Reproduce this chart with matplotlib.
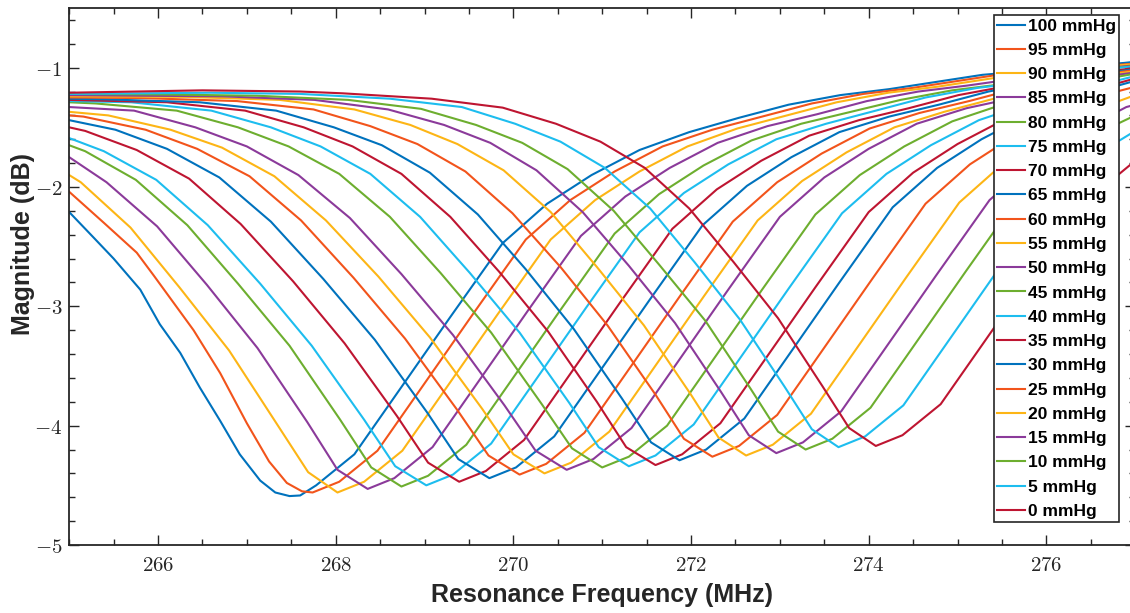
import matplotlib
matplotlib.use('Agg')
import matplotlib.pyplot as plt
from matplotlib.ticker import MultipleLocator, FuncFormatter

plt.rcParams['mathtext.fontset'] = 'cm'

# ---------------- data ----------------
labels = ['100 mmHg', '95 mmHg', '90 mmHg', '85 mmHg', '80 mmHg', '75 mmHg', '70 mmHg',
          '65 mmHg', '60 mmHg', '55 mmHg', '50 mmHg', '45 mmHg', '40 mmHg', '35 mmHg',
          '30 mmHg', '25 mmHg', '20 mmHg', '15 mmHg', '10 mmHg', '5 mmHg', '0 mmHg']

f100 = [265.0, 265.27, 265.5, 265.8, 266.02, 266.25, 266.47, 266.7, 266.92, 267.15, 267.32, 267.48, 267.6, 267.78, 268.21, 268.68, 269.28, 269.88, 270.38, 270.88, 271.42, 271.98, 272.54, 273.10, 273.68, 274.23, 275.28, 276.88, 277.0]
m100 = [-2.21, -2.42, -2.60, -2.86, -3.15, -3.39, -3.68, -3.96, -4.24, -4.46, -4.56, -4.59, -4.585, -4.50, -4.24, -3.74, -3.10, -2.47, -2.14, -1.90, -1.69, -1.54, -1.42, -1.31, -1.23, -1.18, -1.06, -0.96, -0.95]

f95 = [265.0, 265.39, 265.76, 265.95, 266.4, 266.7, 267.0, 267.25, 267.45, 267.62, 267.74, 268.04, 268.47, 268.94, 269.54, 270.14, 270.64, 271.14, 271.68, 272.24, 272.80, 273.36, 273.94, 274.49, 275.54, 277.0]
m95 = [-2.04, -2.30, -2.55, -2.74, -3.20, -3.56, -3.98, -4.30, -4.48, -4.55, -4.56, -4.47, -4.21, -3.71, -3.07, -2.44, -2.11, -1.87, -1.66, -1.52, -1.41, -1.30, -1.22, -1.17, -1.05, -0.965]

f90 = [265.0, 265.13, 265.69, 266.24, 266.80, 267.35, 267.69, 268.02, 268.32, 268.75, 269.22, 269.82, 270.42, 270.92, 271.42, 271.96, 272.52, 273.08, 273.64, 274.22, 274.77, 275.82, 277.0]
m90 = [-1.90, -1.96, -2.34, -2.84, -3.37, -4.00, -4.39, -4.56, -4.47, -4.21, -3.71, -3.07, -2.44, -2.11, -1.87, -1.66, -1.51, -1.40, -1.29, -1.21, -1.16, -1.04, -0.97]

f85 = [265.0, 265.42, 265.99, 266.55, 267.12, 267.68, 268.02, 268.36, 268.66, 269.09, 269.56, 270.16, 270.76, 271.26, 271.76, 272.30, 272.86, 273.42, 273.98, 274.56, 275.11, 276.16, 277.0]
m85 = [-1.75, -1.96, -2.33, -2.82, -3.35, -3.97, -4.37, -4.53, -4.44, -4.18, -3.68, -3.04, -2.41, -2.08, -1.84, -1.63, -1.49, -1.39, -1.28, -1.20, -1.15, -1.04, -0.98]

f80 = [265.0, 265.18, 265.75, 266.33, 266.90, 267.48, 268.05, 268.40, 268.74, 269.04, 269.47, 269.94, 270.54, 271.14, 271.64, 272.14, 272.68, 273.24, 273.80, 274.36, 274.94, 275.49, 276.54, 277.0]
m80 = [-1.65, -1.70, -1.94, -2.32, -2.81, -3.33, -3.95, -4.35, -4.51, -4.42, -4.16, -3.66, -3.02, -2.39, -2.06, -1.82, -1.61, -1.47, -1.37, -1.27, -1.19, -1.14, -1.02, -0.985]

f75 = [265.0, 265.39, 265.98, 266.56, 267.15, 267.73, 268.32, 268.67, 269.02, 269.32, 269.75, 270.22, 270.82, 271.42, 271.92, 272.42, 272.96, 273.52, 274.08, 274.64, 275.22, 275.77, 276.82, 277.0]
m75 = [-1.59, -1.70, -1.94, -2.32, -2.81, -3.33, -3.95, -4.34, -4.50, -4.41, -4.15, -3.65, -3.01, -2.38, -2.05, -1.81, -1.60, -1.47, -1.36, -1.25, -1.17, -1.12, -1.00, -0.99]

f70 = [265.0, 265.18, 265.76, 266.35, 266.93, 267.52, 268.10, 268.69, 269.04, 269.39, 269.69, 270.12, 270.59, 271.19, 271.79, 272.29, 272.79, 273.33, 273.89, 274.45, 275.01, 275.59, 276.14, 277.0]
m70 = [-1.50, -1.53, -1.69, -1.93, -2.31, -2.79, -3.31, -3.92, -4.31, -4.47, -4.38, -4.12, -3.62, -2.98, -2.35, -2.02, -1.78, -1.57, -1.44, -1.34, -1.23, -1.15, -1.10, -1.00]

f65 = [265.0, 265.52, 266.10, 266.69, 267.27, 267.86, 268.44, 269.03, 269.38, 269.73, 270.03, 270.46, 270.93, 271.53, 272.13, 272.63, 273.13, 273.67, 274.23, 274.79, 275.35, 275.93, 276.48, 277.0]
m65 = [-1.44, -1.52, -1.68, -1.92, -2.29, -2.77, -3.28, -3.89, -4.28, -4.44, -4.35, -4.09, -3.59, -2.95, -2.32, -1.99, -1.75, -1.54, -1.41, -1.31, -1.20, -1.12, -1.07, -1.01]

f60 = [265.0, 265.16, 265.86, 266.44, 267.03, 267.61, 268.20, 268.78, 269.37, 269.72, 270.07, 270.37, 270.80, 271.27, 271.87, 272.47, 272.97, 273.47, 274.01, 274.57, 275.13, 275.69, 276.27, 277.0]
m60 = [-1.40, -1.41, -1.52, -1.68, -1.91, -2.28, -2.76, -3.27, -3.87, -4.25, -4.41, -4.32, -4.06, -3.56, -2.92, -2.29, -1.96, -1.72, -1.51, -1.38, -1.28, -1.17, -1.09, -1.02]

f55 = [265.0, 265.44, 266.14, 266.72, 267.31, 267.89, 268.48, 269.06, 269.65, 270.0, 270.35, 270.65, 271.08, 271.55, 272.15, 272.75, 273.25, 273.75, 274.29, 274.85, 275.41, 275.97, 276.55, 277.0]
m55 = [-1.37, -1.40, -1.52, -1.67, -1.91, -2.28, -2.75, -3.26, -3.86, -4.24, -4.40, -4.31, -4.05, -3.55, -2.91, -2.28, -1.95, -1.71, -1.50, -1.37, -1.26, -1.15, -1.07, -1.03]

f50 = [265.0, 265.73, 266.42, 267.0, 267.58, 268.16, 268.74, 269.32, 269.90, 270.25, 270.60, 270.90, 271.33, 271.80, 272.40, 273.00, 273.50, 274.00, 274.54, 275.10, 275.66, 276.22, 276.80, 277.0]
m50 = [-1.33, -1.36, -1.50, -1.66, -1.90, -2.26, -2.73, -3.24, -3.83, -4.21, -4.37, -4.28, -4.02, -3.52, -2.88, -2.25, -1.92, -1.68, -1.47, -1.34, -1.25, -1.14, -1.06, -1.04]

f45 = [265.0, 265.30, 266.21, 266.90, 267.47, 268.04, 268.61, 269.18, 269.75, 270.32, 270.66, 271.00, 271.30, 271.73, 272.20, 272.80, 273.40, 273.90, 274.40, 274.94, 275.50, 276.06, 276.62, 277.0]
m45 = [-1.29, -1.30, -1.36, -1.50, -1.66, -1.89, -2.25, -2.72, -3.22, -3.82, -4.19, -4.35, -4.26, -4.00, -3.50, -2.86, -2.23, -1.90, -1.66, -1.45, -1.31, -1.21, -1.10, -1.05]

f40 = [265.0, 265.70, 266.60, 267.27, 267.83, 268.39, 268.95, 269.51, 270.07, 270.63, 270.96, 271.30, 271.60, 272.03, 272.50, 273.10, 273.70, 274.20, 274.70, 275.24, 275.80, 276.36, 277.0]
m40 = [-1.28, -1.29, -1.36, -1.50, -1.66, -1.89, -2.25, -2.72, -3.22, -3.81, -4.18, -4.34, -4.25, -3.99, -3.49, -2.85, -2.22, -1.89, -1.65, -1.44, -1.30, -1.19, -1.07]

f35 = [265.0, 266.10, 266.98, 267.64, 268.19, 268.74, 269.29, 269.84, 270.39, 270.94, 271.27, 271.60, 271.90, 272.33, 272.80, 273.40, 274.00, 274.50, 275.00, 275.54, 276.10, 276.66, 277.0]
m35 = [-1.27, -1.29, -1.36, -1.50, -1.66, -1.89, -2.25, -2.71, -3.21, -3.80, -4.18, -4.33, -4.24, -3.98, -3.48, -2.84, -2.21, -1.88, -1.64, -1.43, -1.28, -1.16, -1.09]

f30 = [265.0, 265.39, 266.47, 267.33, 267.98, 268.52, 269.06, 269.60, 270.14, 270.68, 271.22, 271.55, 271.87, 272.17, 272.60, 273.07, 273.67, 274.27, 274.77, 275.27, 275.81, 276.37, 277.0]
m30 = [-1.26, -1.265, -1.29, -1.36, -1.50, -1.65, -1.88, -2.23, -2.69, -3.19, -3.77, -4.14, -4.29, -4.20, -3.94, -3.44, -2.80, -2.17, -1.84, -1.60, -1.39, -1.24, -1.11]

f25 = [265.0, 265.82, 266.89, 267.75, 268.39, 268.92, 269.46, 269.99, 270.53, 271.06, 271.60, 271.92, 272.24, 272.54, 272.97, 273.44, 274.04, 274.64, 275.14, 275.64, 276.18, 276.74, 277.0]
m25 = [-1.25, -1.255, -1.28, -1.35, -1.49, -1.64, -1.87, -2.22, -2.67, -3.16, -3.74, -4.11, -4.26, -4.17, -3.91, -3.41, -2.77, -2.14, -1.81, -1.57, -1.36, -1.21, -1.16]

f20 = [265.0, 266.32, 267.37, 268.21, 268.84, 269.37, 269.89, 270.42, 270.94, 271.47, 271.99, 272.31, 272.62, 272.92, 273.35, 273.82, 274.42, 275.02, 275.52, 276.02, 276.56, 277.0]
m20 = [-1.24, -1.245, -1.27, -1.35, -1.48, -1.64, -1.86, -2.21, -2.67, -3.16, -3.73, -4.10, -4.25, -4.16, -3.90, -3.40, -2.76, -2.13, -1.80, -1.56, -1.35, -1.23]

f15 = [265.0, 266.72, 267.76, 268.59, 269.22, 269.74, 270.26, 270.78, 271.30, 271.82, 272.34, 272.65, 272.96, 273.26, 273.69, 274.16, 274.76, 275.36, 275.86, 276.36, 276.90, 277.0]
m15 = [-1.23, -1.24, -1.27, -1.35, -1.48, -1.63, -1.86, -2.21, -2.66, -3.14, -3.72, -4.08, -4.23, -4.14, -3.88, -3.38, -2.74, -2.11, -1.78, -1.54, -1.33, -1.31]

f10 = [265.0, 266.08, 267.11, 268.14, 268.96, 269.58, 270.10, 270.61, 271.13, 271.64, 272.16, 272.67, 272.98, 273.29, 273.59, 274.02, 274.49, 275.09, 275.69, 276.19, 276.69, 277.0]
m10 = [-1.22, -1.225, -1.235, -1.27, -1.345, -1.48, -1.63, -1.85, -2.20, -2.65, -3.12, -3.69, -4.05, -4.20, -4.11, -3.85, -3.35, -2.71, -2.08, -1.75, -1.51, -1.40]

f5 = [265.0, 266.59, 267.60, 268.61, 269.42, 270.02, 270.53, 271.03, 271.54, 272.04, 272.55, 273.05, 273.36, 273.66, 273.96, 274.39, 274.86, 275.46, 276.06, 276.56, 277.0]
m5 = [-1.22, -1.21, -1.22, -1.26, -1.33, -1.47, -1.62, -1.84, -2.18, -2.63, -3.11, -3.67, -4.03, -4.18, -4.09, -3.83, -3.33, -2.69, -2.06, -1.73, -1.53]

f0 = [265.0, 266.5, 267.6, 268.08, 269.08, 269.88, 270.48, 270.98, 271.48, 271.98, 272.48, 272.98, 273.48, 273.78, 274.08, 274.38, 274.81, 275.28, 275.88, 276.48, 277.0]
m0 = [-1.21, -1.19, -1.20, -1.215, -1.26, -1.335, -1.47, -1.62, -1.84, -2.18, -2.63, -3.10, -3.67, -4.02, -4.17, -4.08, -3.82, -3.32, -2.68, -2.10, -1.78]

x_ticks = [266, 268, 270, 272, 274, 276]
y_ticks = [-5, -4, -3, -2, -1]

colors = ['#0072BD', '#F2541B', '#FDB515', '#8B3A9A', '#6DAE2F', '#1DBDEF', '#BE1531']

series = [(f100, m100), (f95, m95), (f90, m90), (f85, m85), (f80, m80), (f75, m75),
          (f70, m70), (f65, m65), (f60, m60), (f55, m55), (f50, m50), (f45, m45),
          (f40, m40), (f35, m35), (f30, m30), (f25, m25), (f20, m20), (f15, m15),
          (f10, m10), (f5, m5), (f0, m0)]

# ---------------- figure ----------------
fig = plt.figure(figsize=(11.3, 6.13), dpi=100)
ax = fig.add_axes([69.2 / 1130, (613 - 545) / 613, 1066 / 1130, 537 / 613])

for i, ((fx, my), lab) in enumerate(zip(series, labels)):
    ax.plot(fx, my, color=colors[i % len(colors)], lw=1.5, label=lab)

ax.set_xlim(265, 277)
ax.set_ylim(-5, -0.5)
ax.set_xticks(x_ticks)
ax.set_yticks(y_ticks)
ax.xaxis.set_minor_locator(MultipleLocator(0.5))
ax.yaxis.set_minor_locator(MultipleLocator(0.2))
fmt = FuncFormatter(lambda v, p: r'$%d$' % round(v))
ax.xaxis.set_major_formatter(fmt)
ax.yaxis.set_major_formatter(fmt)

spine_col = '#262626'
for s in ax.spines.values():
    s.set_color(spine_col)
    s.set_linewidth(1.3)
ax.tick_params(which='both', direction='in', top=True, right=True, colors=spine_col,
               width=1.0, labelcolor='#262626')
ax.tick_params(which='major', length=7, labelsize=15)
ax.tick_params(axis='x', which='major', pad=7)
ax.tick_params(axis='y', which='major', pad=5)
ax.tick_params(which='minor', length=4)

lab_font = dict(family='Liberation Sans', weight='bold', size=18, color='#262626')
ax.set_xlabel('Resonance Frequency (MHz)', **lab_font)
ax.set_ylabel('Magnitude (dB)', **lab_font)
ax.xaxis.set_label_coords(0.5, -0.071)
ax.yaxis.set_label_coords(-0.032, 0.56)

leg = ax.legend(loc='upper right', bbox_to_anchor=(0.985, 0.987), borderaxespad=0,
                prop={'family': 'Liberation Sans', 'weight': 'bold', 'size': 12.5},
                handlelength=1.6, handletextpad=0.15, labelspacing=0.525, borderpad=0.2,
                frameon=True, fancybox=False, framealpha=1, edgecolor=spine_col)
leg.get_frame().set_linewidth(1.2)

fig.savefig('out.png', dpi=100)
